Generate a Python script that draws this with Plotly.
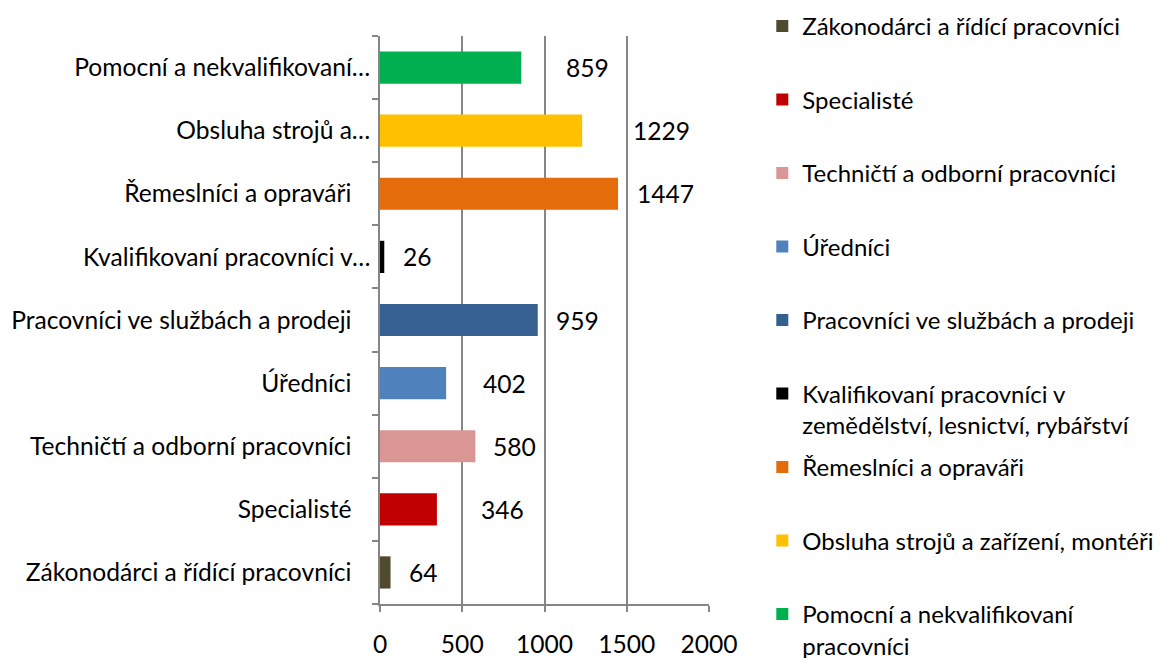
import plotly.graph_objects as go

categories = [
    "Zákonodárci a řídící pracovníci",
    "Specialisté",
    "Techničtí a odborní pracovníci",
    "Úředníci",
    "Pracovníci ve službách a prodeji",
    "Kvalifikovaní pracovníci v zemědělství, lesnictví, rybářství",
    "Řemeslníci a opraváři",
    "Obsluha strojů a zařízení, montéři",
    "Pomocní a nekvalifikovaní pracovníci",
]
values = [64, 346, 580, 402, 959, 26, 1447, 1229, 859]
tick_labels = [
    "Zákonodárci a řídící pracovníci",
    "Specialisté",
    "Techničtí a odborní pracovníci",
    "Úředníci",
    "Pracovníci ve službách a prodeji",
    "Kvalifikovaní pracovníci v…",
    "Řemeslníci a opraváři",
    "Obsluha strojů a…",
    "Pomocní a nekvalifikovaní…",
]
legend_names = [
    "Zákonodárci a řídící pracovníci",
    "Specialisté",
    "Techničtí a odborní pracovníci",
    "Úředníci",
    "Pracovníci ve službách a prodeji",
    "Kvalifikovaní pracovníci v<br>zemědělství, lesnictví, rybářství",
    "Řemeslníci a opraváři",
    "Obsluha strojů a zařízení, montéři",
    "Pomocní a nekvalifikovaní<br>pracovníci",
]

colors = ["#4F4A2E", "#C00000", "#D99694", "#4F81BD", "#376092",
          "#000000", "#E46C0A", "#FFC000", "#00B050"]
# gap in px between bar end and its value label (Excel placed them unevenly)
label_gap = [16, 42, 16, 35, 16, 17, 17, 49, 43]
truncated = [False, False, False, False, False, True, False, True, True]

FONT = "Lato"
FS = 24.6
LEG_FS = 24
GRID = "#868686"

# page body has an 8px margin, so the figure is 8px smaller than the window
W, H = 1160, 650
ML, MR, MT, MB = 372, 459, 28, 54
plot_h = H - MT - MB

fig = go.Figure()
legends = {}
for i, cat in enumerate(categories):
    key = "legend" if i == 0 else f"legend{i + 1}"
    fig.add_trace(go.Bar(
        x=[values[i]], y=[cat], orientation="h",
        name=legend_names[i], legend=key,
        marker=dict(color=colors[i], line=dict(width=0)),
        hoverinfo="x+name",
    ))
    fig.add_annotation(
        x=values[i], y=cat, text=str(values[i]),
        showarrow=False, xanchor="left", yanchor="middle",
        xshift=label_gap[i], font=dict(family=FONT, size=FS, color="#000000"),
    )
    # Excel spaces legend entries evenly down the right side
    top_px = 27 + 73.5 * i - MT - 8 - 23
    legends[key] = dict(
        x=1.162, xanchor="left",
        y=1 - top_px / plot_h, yanchor="top", valign="top",
        font=dict(family=FONT, size=LEG_FS, color="#000000"),
        bgcolor="rgba(0,0,0,0)",
    )

# full labels sit a bit further left than truncated ones in the original
ticktext = [t if tr else t + "\u00a0" * 3 for t, tr in zip(tick_labels, truncated)]

fig.update_layout(
    width=W, height=H,
    margin=dict(l=ML, r=MR, t=MT, b=MB, autoexpand=False),
    paper_bgcolor="white", plot_bgcolor="white",
    barmode="relative", bargap=0.49,
    font=dict(family=FONT, size=FS, color="#000000"),
    showlegend=True,
    xaxis=dict(
        range=[0, 2000], tickvals=[0, 500, 1000, 1500, 2000],
        showgrid=True, gridcolor=GRID, gridwidth=1.5,
        showline=True, linecolor=GRID, linewidth=1.5,
        ticks="outside", ticklen=6, tickcolor=GRID, tickwidth=1.5,
        ticklabelstandoff=12, zeroline=False, fixedrange=True,
    ),
    yaxis=dict(
        type="category", categoryorder="array", categoryarray=categories,
        tickvals=categories, ticktext=ticktext,
        showline=True, linecolor=GRID, linewidth=1.5,
        ticks="outside", tickson="boundaries", ticklen=6, tickcolor=GRID, tickwidth=1.5,
        ticklabelstandoff=3, showgrid=False, fixedrange=True,
    ),
    **legends,
)

fig.write_html("out.html")
